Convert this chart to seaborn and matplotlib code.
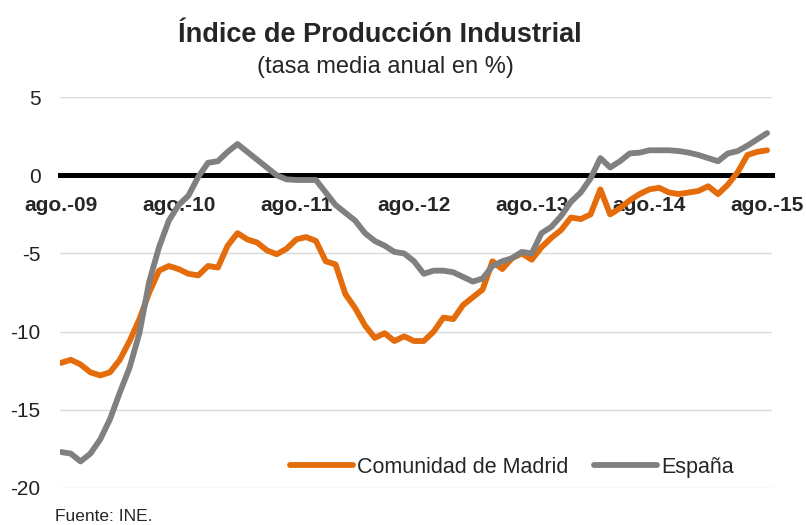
import numpy as np
import pandas as pd
import seaborn as sns
import matplotlib.pyplot as plt

# meses desde ago.-09 hasta ago.-15 (tasa media anual, %)
madrid = [-12.0, -11.8, -12.1, -12.6, -12.8, -12.6, -11.8, -10.6, -9.2, -7.5,
          -6.1, -5.8, -6.0, -6.3, -6.4, -5.8, -5.9, -4.5, -3.7, -4.1,
          -4.3, -4.8, -5.05, -4.7, -4.1, -3.95, -4.2, -5.5, -5.7, -7.6,
          -8.5, -9.6, -10.4, -10.1, -10.6, -10.3, -10.6, -10.6, -10.0, -9.1,
          -9.2, -8.3, -7.8, -7.3, -5.5, -6.0, -5.3, -5.0, -5.4, -4.6,
          -4.0, -3.5, -2.7, -2.8, -2.5, -0.9, -2.5, -2.1, -1.6, -1.2,
          -0.9, -0.8, -1.1, -1.2, -1.1, -1.0, -0.7, -1.2, -0.6, 0.2,
          1.3, 1.5, 1.6]
espana = [-17.7, -17.8, -18.3, -17.8, -16.9, -15.6, -13.9, -12.3, -10.1, -6.8,
          -4.6, -2.9, -1.9, -1.3, -0.1, 0.8, 0.9, 1.5, 2.0, 1.5,
          1.0, 0.5, 0.0, -0.26, -0.3, -0.3, -0.3, -1.1, -1.9, -2.4,
          -2.9, -3.7, -4.2, -4.5, -4.9, -5.0, -5.5, -6.3, -6.1, -6.1,
          -6.2, -6.5, -6.8, -6.6, -5.8, -5.5, -5.3, -4.9, -5.0, -3.7,
          -3.3, -2.6, -1.7, -1.1, -0.2, 1.1, 0.5, 0.9, 1.4, 1.45,
          1.6, 1.6, 1.6, 1.55, 1.45, 1.3, 1.1, 0.9, 1.4, 1.55,
          1.9, 2.3, 2.7]
etiquetas = ["ago.-09", "ago.-10", "ago.-11", "ago.-12", "ago.-13", "ago.-14", "ago.-15"]
series = ["Comunidad de Madrid", "España"]
colores = ["#E46C0A", "#808080"]

mes = np.arange(len(madrid))
df = pd.DataFrame({"mes": np.concatenate([mes, mes]),
                   "valor": madrid + espana,
                   "serie": [series[0]] * len(madrid) + [series[1]] * len(espana)})

sns.set_style("white")
plt.rcParams['font.family'] = ['Liberation Sans', 'DejaVu Sans']

fig = plt.figure(figsize=(8.06, 5.25), dpi=100)
ax = fig.add_axes([0.0744, 0.0705, 0.8834, 0.7445])

sns.lineplot(data=df, x="mes", y="valor", hue="serie", palette=colores,
             linewidth=4.2, ax=ax, zorder=3)

# eje horizontal en el cero (antes de formatear las etiquetas: resetea los ticks)
for s in ["top", "right", "left"]:
    ax.spines[s].set_visible(False)
ax.spines["bottom"].set_position(("data", 0))
ax.spines["bottom"].set_linewidth(3.6)
ax.spines["bottom"].set_color("black")

ax.set_xlim(-0.1, 72.5)
ax.set_ylim(-20, 5)
ax.tick_params(axis="both", length=0)
ax.tick_params(axis="x", pad=15)
ax.tick_params(axis="y", pad=14, labelcolor="#222222")
ax.set_yticks([5, 0, -5, -10, -15, -20])
ax.set_yticklabels(["5", "0", "-5", "-10", "-15", "-20"], fontsize=15)
ax.set_xticks(np.arange(0, 73, 12))
ax.set_xticklabels(etiquetas, fontsize=15, fontweight="bold")
ax.set_xlabel("")
ax.set_ylabel("")

ax.yaxis.grid(True, color="#D9D9D9", linewidth=1)
ax.xaxis.grid(False)

ax.legend(loc="center", bbox_to_anchor=(0.635, 0.11), bbox_transform=fig.transFigure,
          ncol=2, frameon=False, fontsize=15.5, handlelength=2.9, handletextpad=0.2,
          columnspacing=1.2)

fig.text(0.471, 0.933, "Índice de Producción Industrial", ha="center", va="center",
         fontsize=19.5, fontweight="bold")
fig.text(0.478, 0.872, "(tasa media anual en %)", ha="center", va="center", fontsize=17)
fig.text(0.068, 0.017, "Fuente: INE.", ha="left", va="center", fontsize=12.5)

fig.savefig("out.png", dpi=100)
